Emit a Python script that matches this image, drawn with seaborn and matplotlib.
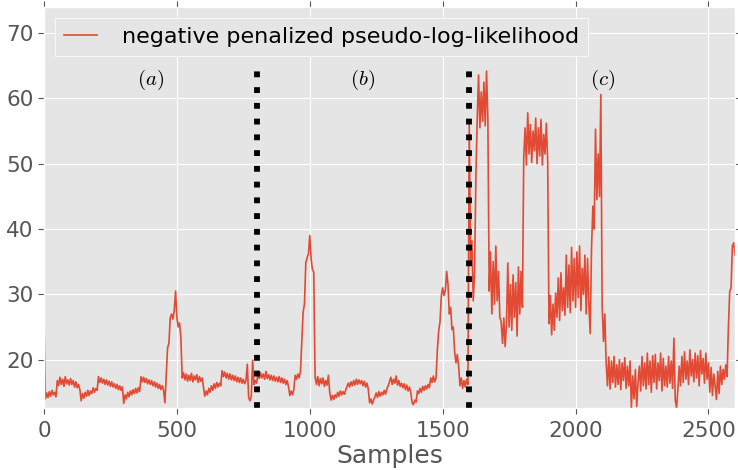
import numpy as np
import pandas as pd
import seaborn as sns
import matplotlib
matplotlib.use("Agg")
import matplotlib.pyplot as plt

# values, one every 5 samples (0 .. 2600)
step = 5
nll_values = [
    # 0 - 95
    26.5, 14.0, 14.9, 14.2, 15.1, 14.4, 15.3, 14.6, 15.0, 14.3,
    16.8, 16.0, 17.3, 16.2, 17.0, 15.9, 17.4, 16.3, 16.9, 16.1,
    # 100 - 195
    17.1, 16.2, 16.8, 15.8, 16.6, 15.7, 16.2, 15.4, 13.7, 14.8,
    14.1, 15.0, 14.4, 15.3, 14.5, 15.2, 14.8, 15.7, 15.0, 15.6,
    # 200 - 295
    15.3, 17.4, 16.5, 17.2, 16.4, 17.0, 16.2, 16.9, 16.1, 16.7,
    15.9, 16.6, 15.8, 16.3, 15.6, 16.2, 15.4, 16.0, 15.3, 15.8,
    # 300 - 395
    13.3, 14.6, 14.0, 15.0, 14.3, 15.2, 14.6, 15.4, 14.8, 15.6,
    14.9, 15.7, 15.1, 17.4, 16.6, 17.3, 16.5, 17.1, 16.3, 16.9,
    # 400 - 495
    16.2, 16.8, 16.0, 16.6, 15.8, 16.4, 15.6, 16.2, 15.4, 16.0,
    15.3, 13.4, 17.5, 21.8, 22.5, 26.4, 27.0, 26.2, 27.5, 30.5,
    # 500 - 595
    26.5, 25.0, 25.6, 23.4, 17.2, 18.0, 16.9, 17.8, 16.7, 17.6,
    16.8, 17.9, 16.6, 17.5, 16.9, 17.7, 16.5, 17.4, 16.7, 17.2,
    # 600 - 695
    15.8, 14.4, 15.2, 14.6, 15.6, 15.0, 16.0, 15.3, 16.3, 15.6,
    16.5, 15.8, 16.4, 16.0, 18.3, 17.4, 18.1, 17.2, 17.9, 17.0,
    # 700 - 795
    17.8, 16.9, 17.6, 16.8, 17.5, 16.6, 17.3, 16.5, 17.2, 16.4,
    17.0, 16.3, 16.8, 19.3, 14.2, 13.7, 14.4, 19.9, 16.2, 16.8,
    # 800 - 895
    16.4, 17.9, 17.1, 18.0, 17.2, 17.8, 17.0, 18.2, 17.1, 17.7,
    16.9, 17.6, 16.8, 17.5, 16.7, 17.3, 16.6, 17.4, 16.5, 17.2,
    # 900 - 995
    16.4, 17.0, 16.2, 16.8, 15.8, 14.5, 15.2, 14.6, 15.4, 17.6,
    17.0, 17.8, 17.2, 18.2, 22.8, 27.3, 28.5, 34.8, 35.6, 36.2,
    # 1000 - 1095
    39.0, 35.5, 33.8, 33.4, 17.3, 16.2, 17.4, 16.0, 17.1, 16.3,
    17.2, 15.9, 16.8, 16.1, 17.6, 15.0, 13.8, 14.5, 13.9, 14.6,
    # 1100 - 1195
    14.2, 15.0, 14.4, 15.2, 14.6, 15.1, 14.7, 15.3, 15.9, 16.4,
    15.8, 16.6, 16.0, 16.8, 16.1, 17.0, 16.2, 16.9, 16.3, 16.8,
    # 1200 - 1295
    16.0, 16.7, 15.8, 16.4, 15.5, 13.4, 14.0, 13.2, 13.8, 14.3,
    14.9, 14.2, 15.1, 14.4, 15.0, 14.6, 15.3, 14.7, 15.5, 16.0,
    # 1300 - 1395
    16.6, 17.3, 16.2, 17.0, 16.4, 17.5, 16.1, 16.8, 15.9, 16.4,
    15.7, 16.3, 15.4, 16.1, 15.2, 15.8, 15.0, 13.4, 13.1, 13.8,
    # 1400 - 1495
    13.5, 15.2, 14.8, 15.6, 15.0, 15.9, 15.3, 16.0, 15.5, 16.2,
    15.7, 17.2, 16.5, 17.5, 16.6, 17.2, 21.5, 24.4, 25.8, 29.8,
    # 1500 - 1595
    31.0, 29.8, 30.6, 33.5, 31.5, 27.0, 28.0, 24.6, 25.0, 21.2,
    19.5, 20.8, 19.0, 16.0, 17.2, 15.6, 16.8, 15.8, 17.0, 16.2,
    # 1600 - 1695
    56.0, 34.5, 38.2, 29.0, 33.5, 48.0, 57.0, 63.6, 55.5, 61.0,
    56.5, 62.5, 55.8, 64.2, 57.0, 30.5, 36.5, 27.0, 35.0, 28.5,
    # 1700 - 1795
    37.4, 29.0, 33.5, 26.5, 25.8, 22.5, 26.4, 22.0, 25.5, 34.8,
    25.0, 31.5, 24.5, 33.0, 26.5, 31.8, 23.6, 34.2, 27.0, 33.5,
    # 1800 - 1895
    28.0, 51.0, 55.5, 49.8, 57.8, 51.5, 56.0, 50.2, 55.0, 52.0,
    57.0, 50.0, 55.5, 51.2, 56.8, 49.8, 54.5, 51.5, 56.2, 50.5,
    # 1900 - 1995
    25.5, 29.8, 23.8, 28.5, 24.5, 30.2, 26.5, 32.5, 26.0, 33.3,
    27.5, 31.0, 26.8, 36.0, 28.0, 34.5, 27.2, 37.2, 29.0, 35.5,
    # 2000 - 2095
    28.0, 36.5, 29.5, 37.4, 27.5, 34.0, 30.0, 36.0, 27.0, 35.5,
    28.5, 24.0, 37.0, 43.5, 40.0, 55.3, 44.5, 51.5, 45.0, 60.6,
    # 2100 - 2195
    28.2, 22.8, 27.0, 19.5, 16.0, 20.4, 15.5, 19.8, 16.5, 20.5,
    15.8, 19.2, 16.2, 20.0, 15.4, 19.5, 16.8, 20.3, 15.6, 19.0,
    # 2200 - 2295
    16.0, 19.8, 12.6, 17.5, 14.0, 18.5, 12.8, 16.5, 19.0, 15.2,
    20.5, 16.0, 19.5, 15.5, 21.0, 16.2, 19.8, 15.0, 20.6, 16.5,
    # 2300 - 2395
    20.8, 15.5, 19.5, 16.8, 21.0, 15.2, 20.2, 16.0, 19.0, 15.8,
    20.5, 16.4, 19.8, 15.6, 23.3, 13.8, 12.6, 15.5, 19.0, 16.0,
    # 2400 - 2495
    20.5, 16.5, 21.2, 17.0, 19.8, 16.2, 21.5, 17.5, 20.0, 16.6,
    21.0, 17.2, 20.6, 16.0, 21.4, 17.8, 20.2, 16.4, 21.0, 17.0,
    # 2500 - 2600
    19.5, 15.0, 18.8, 14.5, 17.8, 16.0, 13.9, 18.2, 14.8, 19.0,
    16.2, 18.5, 17.0, 19.2, 17.4, 25.0, 30.5, 31.0, 37.4, 37.9,
    36.0,
]
boundaries = [800, 1600]
segment_labels = ["$(a)$", "$(b)$", "$(c)$"]
segment_label_x = [400, 1200, 2100]

df = pd.DataFrame({"sample": np.arange(len(nll_values)) * step, "nll": nll_values})

plt.style.use("ggplot")
plt.rcParams["font.family"] = ["DejaVu Sans"]
plt.rcParams["mathtext.fontset"] = "cm"

fig = plt.figure(figsize=(7.38, 4.70), dpi=100)
ax = fig.add_axes([0.0596, 0.132, 0.9364, 0.853])

sns.lineplot(data=df, x="sample", y="nll", ax=ax, color="#E24A33", lw=1.2,
             label="negative penalized pseudo-log-likelihood")

ymin, ymax = 12.6, 74
for b in boundaries:
    ax.plot([b, b], [ymin, 64.2], color="black", lw=4.2, ls=(0, (1, 1.7)))
for lab, xp in zip(segment_labels, segment_label_x):
    ax.text(xp, 62.8, lab, fontsize=15, ha="center", va="center", color="black")

ax.set_xlim(0, 2600)
ax.set_ylim(ymin, ymax)
ax.set_xticks([0, 500, 1000, 1500, 2000, 2500])
ax.set_yticks([20, 30, 40, 50, 60, 70])
ax.tick_params(labelsize=15.5, colors="#555555", top=True, right=True,
               labeltop=False, labelright=False, direction="out", length=4)
ax.tick_params(axis="x", pad=5.5)
ax.set_xlabel("Samples", fontsize=18, color="#555555", labelpad=2)
ax.set_ylabel("")

leg = ax.legend(loc="upper left", fontsize=16, fancybox=False, framealpha=1,
                facecolor="#E5E5E5", edgecolor="white", handlelength=1.5,
                handletextpad=1.1)
for t in leg.get_texts():
    t.set_color("black")

fig.savefig("out.png", dpi=100)
